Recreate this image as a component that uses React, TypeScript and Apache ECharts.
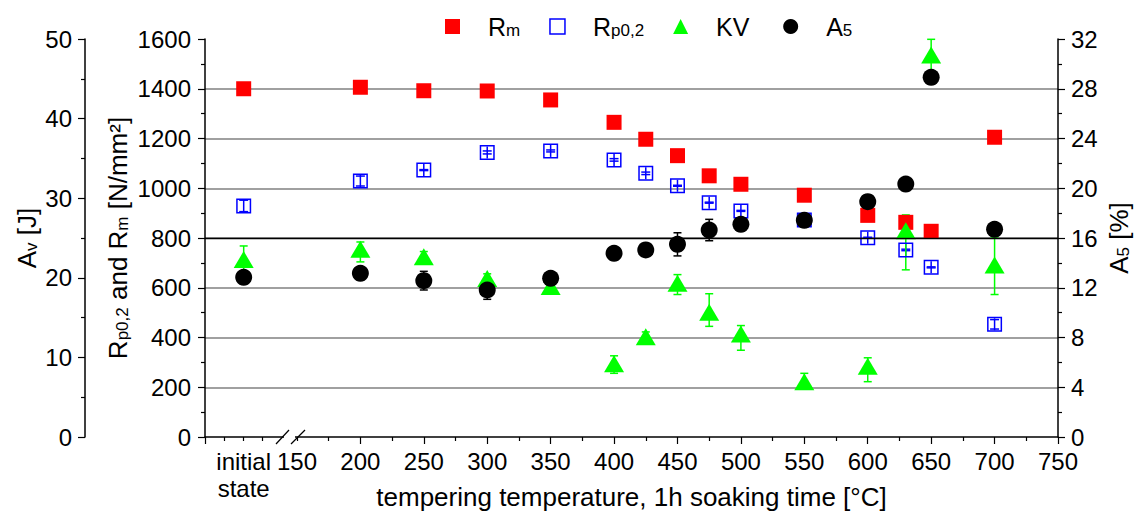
import React, { useEffect, useRef } from 'react';
import * as echarts from 'echarts';

const FONT = '"Liberation Sans", Arial, Helvetica, sans-serif';
const RED = '#ff0000';
const BLUE = '#0000ff';
const GREEN = '#00ff00';
const BLACK = '#000000';

// Position of the as-delivered specimens on the temperature axis (left of the axis break)
const INITIAL_STATE_X = 108;

const temperatures = [INITIAL_STATE_X, 200, 250, 300, 350, 400, 425, 450, 475, 500, 550, 600, 630, 650, 700];

// Tensile strength R_m [N/mm²]
const rm = [1400, 1406, 1392, 1391, 1355, 1265, 1197, 1131, 1050, 1016, 972, 891, 863, 827, 1205];
// Yield strength R_p0,2 [N/mm²] and its scatter
const rp02 = [929, 1029, 1073, 1144, 1150, 1114, 1060, 1010, 942, 909, 872, 801, 752, 682, 453];
const rp02Err = [23, 20, 2, 6, 4, 5, 5, 2, 2, 2, 2, 2, 3, 2, 19];
// Charpy impact energy KV [J] with min / max
const kv = [22.3, 23.6, 22.65, 19.9, 18.9, 9.2, 12.6, 19.3, 15.66, 12.95, 6.95, 8.9, 25.9, 48.0, 21.6];
const kvLow = [20.7, 22.0, 22.0, 19.3, 18.4, 8.0, 12.0, 17.9, 13.9, 10.9, 6.0, 6.95, 21.0, 46.0, 17.9];
const kvHigh = [24.0, 24.5, 23.3, 20.5, 19.4, 10.2, 13.2, 20.4, 18.0, 14.0, 8.0, 9.95, 27.9, 49.96, 25.0];
// Elongation A_5 [%] and its scatter
const a5 = [12.84, 13.16, 12.57, 11.82, 12.76, 14.77, 15.04, 15.49, 16.64, 17.1, 17.42, 18.92, 20.34, 28.92, 16.7];
const a5Err = [0.4, 0.4, 0.75, 0.75, 0.4, 0.4, 0.4, 0.93, 0.86, 0.5, 0.4, 0.4, 0.4, 0.4, 0.4];

// Temperature axis
const X_MIN = 77.5;
const X_MAX = 750;
const xLabelValues = [INITIAL_STATE_X, 150, 200, 250, 300, 350, 400, 450, 500, 550, 600, 650, 700, 750];
const xMajorTicks = [X_MIN, 200, 250, 300, 350, 400, 450, 500, 550, 600, 650, 700, 750];
const xMinorTicks = [93, 108, 123, 150, 175, 225, 275, 325, 375, 425, 475, 525, 575, 625, 675, 725];

// rich-text styles for names with subscripts (axis titles)
const titleRich: any = {
  b: { fontFamily: FONT, fontSize: 26, color: BLACK, lineHeight: 26, verticalAlign: 'top' },
  s: { fontFamily: FONT, fontSize: 17, color: BLACK, lineHeight: 17, padding: [13, 0, 0, 0], verticalAlign: 'bottom' },
};
// rich-text styles for the legend
const legendRich: any = {
  b: { fontFamily: FONT, fontSize: 25, color: BLACK, lineHeight: 25, verticalAlign: 'top' },
  s: { fontFamily: FONT, fontSize: 17, color: BLACK, lineHeight: 17, padding: [12, 0, 0, 0], verticalAlign: 'bottom' },
};

const legendLabels: Record<string, string> = {
  Rm: '{b|R}{s|m}',
  Rp02: '{b|R}{s|p0,2}',
  KV: '{b|KV}{s| }',
  A5: '{b|A}{s|5}',
};

function errorBars(color: string, capHalf: number, stemHalf = 0) {
  return (_params: any, api: any) => {
    const x = api.value(0);
    const lo = api.coord([x, api.value(1)]);
    const hi = api.coord([x, api.value(2)]);
    let top = hi[1];
    let bottom = lo[1];
    if (stemHalf) {
      const c = api.coord([x, api.value(3)]);
      top = Math.min(top, c[1] - stemHalf);
      bottom = Math.max(bottom, c[1] + stemHalf);
    }
    const style = { stroke: color, lineWidth: 1.5 };
    return {
      type: 'group',
      children: [
        { type: 'line', shape: { x1: lo[0], y1: bottom, x2: hi[0], y2: top }, style },
        { type: 'line', shape: { x1: lo[0] - capHalf, y1: lo[1], x2: lo[0] + capHalf, y2: lo[1] }, style },
        { type: 'line', shape: { x1: hi[0] - capHalf, y1: hi[1], x2: hi[0] + capHalf, y2: hi[1] }, style },
      ],
    };
  };
}

const axisCommon: any = {
  type: 'value',
  axisLine: { show: true, lineStyle: { color: BLACK, width: 1.5 } },
  axisTick: { show: true, length: 7, lineStyle: { color: BLACK, width: 1.2 } },
  minorTick: { show: true, splitNumber: 2, length: 4, lineStyle: { color: BLACK, width: 1.2 } },
  axisLabel: { fontSize: 24, fontFamily: FONT, color: BLACK, margin: 13, formatter: (v: number) => String(v) },
  nameLocation: 'middle',
  nameMoveOverlap: false,
  nameTextStyle: { rich: titleRich },
};

export default function App() {
  const ref = useRef<HTMLDivElement>(null);

  useEffect(() => {
    if (!ref.current) return;
    const chart = echarts.init(ref.current, undefined, { renderer: 'svg' });

    const option: any = {
      animation: false,
      backgroundColor: '#ffffff',
      textStyle: { fontFamily: FONT },
      grid: { left: 205, right: 78, top: 39, bottom: 76, outerBoundsMode: 'none', containLabel: false },
      legend: {
        left: 440,
        top: 5,
        itemWidth: 15,
        itemHeight: 15,
        itemGap: 29,
        selectedMode: false,
        textStyle: { padding: [0, 0, 0, 23], rich: legendRich },
        formatter: (name: string) => legendLabels[name],
        data: [
          { name: 'Rm', icon: 'rect', itemStyle: { color: RED } },
          { name: 'Rp02', icon: 'rect', itemStyle: { color: 'rgba(0,0,0,0)', borderColor: BLUE, borderWidth: 1.5 } },
          { name: 'KV', icon: 'triangle', itemStyle: { color: GREEN } },
          { name: 'A5', icon: 'circle', itemStyle: { color: BLACK } },
        ],
      },
      xAxis: [
        {
          type: 'value',
          position: 'bottom',
          min: X_MIN,
          max: X_MAX,
          axisLine: { show: true, lineStyle: { color: BLACK, width: 1.5 } },
          axisTick: { show: true, length: 7, customValues: xMajorTicks, lineStyle: { color: BLACK, width: 1.2 } },
          axisLabel: {
            customValues: xLabelValues,
            margin: 12,
            fontSize: 24,
            fontFamily: FONT,
            color: BLACK,
            formatter: (v: number) => (v === INITIAL_STATE_X ? '{l1|initial}\n{l2|state}' : String(v)),
            rich: {
              l1: { fontFamily: FONT, fontSize: 24, color: BLACK, lineHeight: 24 },
              l2: { fontFamily: FONT, fontSize: 24, color: BLACK, lineHeight: 31 },
            },
          },
          splitLine: { show: false },
          name: 'tempering temperature, 1h soaking time [°C]',
          nameLocation: 'middle',
          nameMoveOverlap: false,
          nameGap: 48,
          nameTextStyle: { fontSize: 26, fontFamily: FONT, color: BLACK, lineHeight: 24 },
        },
        {
          type: 'value',
          position: 'bottom',
          min: X_MIN,
          max: X_MAX,
          axisLine: { show: false },
          axisTick: { show: true, length: 4, customValues: xMinorTicks, lineStyle: { color: BLACK, width: 1.2 } },
          axisLabel: { show: false },
          splitLine: { show: false },
        },
      ],
      yAxis: [
        {
          ...axisCommon,
          position: 'left',
          min: 0,
          max: 1600,
          interval: 200,
          axisLabel: { ...axisCommon.axisLabel, margin: 14 },
          name: '{b|R}{s|p0,2}{b| and R}{s|m}{b| [N/mm²]}',
          nameGap: 74,
          splitLine: {
            show: true,
            showMinLine: false,
            showMaxLine: false,
            lineStyle: { color: '#808080', width: 1.5 },
          },
        },
        {
          ...axisCommon,
          position: 'left',
          offset: 120,
          min: 0,
          max: 50,
          interval: 10,
          name: '{b|A}{s|v}{b| [J]}',
          nameGap: 45,
          splitLine: { show: false },
        },
        {
          ...axisCommon,
          position: 'right',
          min: 0,
          max: 32,
          interval: 4,
          name: '{b|A}{s|5}{b| [%]}',
          nameGap: 48,
          splitLine: { show: false },
        },
      ],
      graphic: [
        // axis break between the initial state and the tempering temperatures
        { type: 'rect', shape: { x: 284, y: 435, width: 11, height: 4 }, style: { fill: '#ffffff' }, z: 100 },
        { type: 'line', shape: { x1: 276, y1: 444, x2: 289, y2: 430 }, style: { stroke: BLACK, lineWidth: 1.2 }, z: 101 },
        { type: 'line', shape: { x1: 291, y1: 444, x2: 305, y2: 430 }, style: { stroke: BLACK, lineWidth: 1.2 }, z: 101 },
      ],
      series: [
        {
          name: 'Rm',
          type: 'scatter',
          xAxisIndex: 0,
          yAxisIndex: 0,
          symbol: 'rect',
          symbolSize: 15,
          itemStyle: { color: RED, opacity: 1 },
          data: temperatures.map((t, i) => [t, rm[i]]),
          markLine: {
            silent: true,
            symbol: 'none',
            label: { show: false },
            lineStyle: { color: BLACK, width: 1.3, type: 'solid' },
            data: [{ yAxis: 800 }],
          },
        },
        {
          name: 'Rp02',
          type: 'scatter',
          xAxisIndex: 0,
          yAxisIndex: 0,
          symbol: 'rect',
          symbolSize: 13.5,
          itemStyle: { color: 'rgba(0,0,0,0)', borderColor: BLUE, borderWidth: 1.5, opacity: 1 },
          data: temperatures.map((t, i) => [t, rp02[i]]),
        },
        {
          type: 'custom',
          xAxisIndex: 0,
          yAxisIndex: 0,
          renderItem: errorBars(BLUE, 4.5, 6),
          encode: { x: 0, y: [1, 2] },
          data: temperatures.map((t, i) => [t, rp02[i] - rp02Err[i], rp02[i] + rp02Err[i], rp02[i]]),
        },
        {
          type: 'custom',
          xAxisIndex: 0,
          yAxisIndex: 1,
          renderItem: errorBars(GREEN, 4),
          encode: { x: 0, y: [1, 2] },
          data: temperatures.map((t, i) => [t, kvLow[i], kvHigh[i]]),
        },
        {
          name: 'KV',
          type: 'scatter',
          xAxisIndex: 0,
          yAxisIndex: 1,
          symbol: 'triangle',
          symbolSize: [20, 17],
          itemStyle: { color: GREEN, opacity: 1 },
          data: temperatures.map((t, i) => [t, kv[i]]),
        },
        {
          type: 'custom',
          xAxisIndex: 0,
          yAxisIndex: 2,
          renderItem: errorBars(BLACK, 4),
          encode: { x: 0, y: [1, 2] },
          data: temperatures.map((t, i) => [t, a5[i] - a5Err[i], a5[i] + a5Err[i]]),
        },
        {
          name: 'A5',
          type: 'scatter',
          xAxisIndex: 0,
          yAxisIndex: 2,
          symbol: 'circle',
          symbolSize: 17,
          itemStyle: { color: BLACK, opacity: 1 },
          data: temperatures.map((t, i) => [t, a5[i]]),
        },
      ],
    };

    chart.setOption(option);
    return () => chart.dispose();
  }, []);

  return (
    <div
      ref={ref}
      style={{ position: 'absolute', left: 0, top: 0, width: 1136, height: 513, background: '#fff' }}
    />
  );
}
